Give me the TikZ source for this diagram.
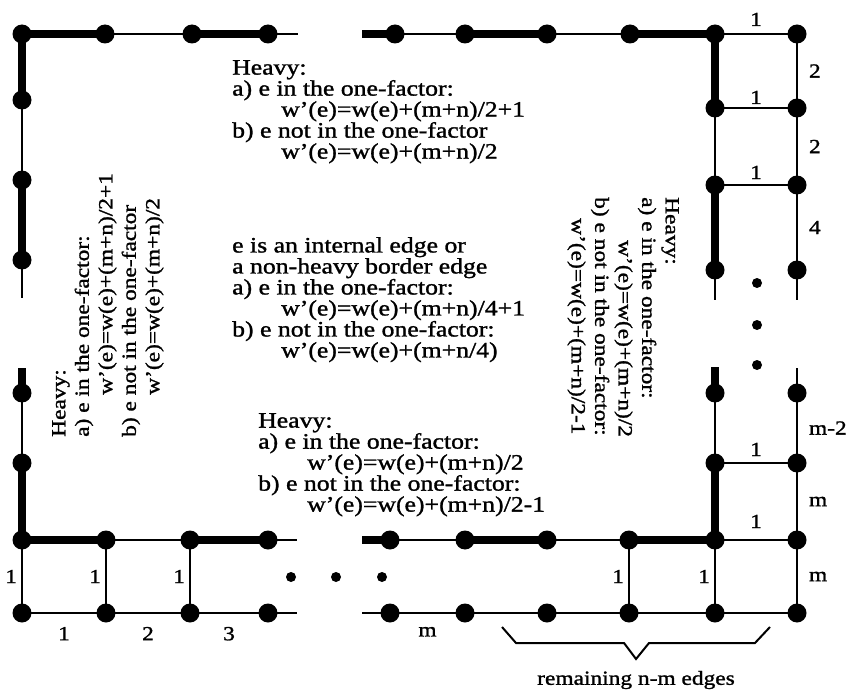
\documentclass[tikz,border=0pt]{standalone}
\usepackage{fontspec}
\setmainfont[FakeStretch=1.17, FakeBold=1.3]{Liberation Serif}
\usetikzlibrary{positioning}

\tikzset{
  vtx/.style={circle, fill=black, minimum size=19pt, inner sep=0pt, outer sep=-2pt},
  heavy/.style={line width=8pt},
  light/.style={line width=2pt},
  wlab/.style={font=\fontsize{20}{20}\selectfont, inner sep=1pt},
  note/.style={font=\fontsize{22}{21}\selectfont, align=left, anchor=north west, inner sep=0pt},
  rnote/.style={font=\fontsize{20}{23.5}\selectfont, align=left, anchor=north west, inner sep=0pt},
}

\begin{document}
\begin{tikzpicture}[x=1pt, y=-1pt]
\useasboundingbox (0,0) rectangle (852,690);

\def\ind{\hspace*{49pt}}

%---------------------------------------
% Vertices
%---------------------------------------
% top left corner
\foreach \n/\x/\y in {a0/22/34, a1/105/34, a2/192/34, a3/268/34,
                      b1/22/100, b2/22/180, b3/22/260}
  \node[vtx] (\n) at (\x,\y) {};
% top right corner
\foreach \n/\x/\y in {c1/395/34, c2/465/34, c3/547/34, c4/630/34, c5/715/34, c6/797/34,
                      d1/715/108, d2/715/185, d3/715/270,
                      e1/797/108, e2/797/185, e3/797/270}
  \node[vtx] (\n) at (\x,\y) {};
% bottom left corner
\foreach \n/\x/\y in {f0/22/540, f1/106/540, f2/190/540, f3/268/540,
                      g0/22/613, g1/106/613, g2/190/613, g3/268/613,
                      h1/22/393, h2/22/463}
  \node[vtx] (\n) at (\x,\y) {};
% bottom right corner
\foreach \n/\x/\y in {k1/390/540, k2/465/540, k3/547/540, k4/629/540, k5/715/540, k6/797/540,
                      l1/390/613, l2/465/613, l3/547/613, l4/629/613, l5/715/613, l6/797/613,
                      p1/715/393, p2/715/463, q1/797/393, q2/797/463}
  \node[vtx] (\n) at (\x,\y) {};

% open ends of the border
\coordinate (ta) at (298,34);
\coordinate (la) at (22,298);
\coordinate (tb) at (362,34);
\coordinate (rc) at (715,300);
\coordinate (rd) at (797,300);
\coordinate (lb) at (22,368);
\coordinate (fe) at (297,540);
\coordinate (ge) at (297,613);
\coordinate (ks) at (362,540);
\coordinate (ls) at (362,613);
\coordinate (ps) at (715,367);
\coordinate (qs) at (797,368);

%---------------------------------------
% Edges
%---------------------------------------
\foreach \s/\t/\k in {a0/a1/heavy, a1/a2/light, a2/a3/heavy, a3/ta/light,
                      a0/b1/heavy, b1/b2/light, b2/b3/heavy, b3/la/light,
                      tb/c1/heavy, c1/c2/light, c2/c3/heavy, c3/c4/light, c4/c5/heavy,
                      c5/d1/heavy, d1/d2/light, d2/d3/heavy, d3/rc/light, e3/rd/light,
                      lb/h1/heavy, h1/h2/light, h2/f0/heavy,
                      f0/f1/heavy, f1/f2/light, f2/f3/heavy, f3/fe/light, g3/ge/light,
                      ks/k1/heavy, k1/k2/light, k2/k3/heavy, k3/k4/light, k4/k5/heavy,
                      ls/l1/light, l2/l3/light, l3/l4/light, l4/l5/light, l5/l6/light,
                      ps/p1/heavy, p1/p2/light, p2/k5/heavy, qs/q1/light}
  \draw[\k] (\s) -- (\t);

% weighted edges, top right
\draw[light] (c5) -- node[wlab, above=6pt] {1} (c6);
\draw[light] (d1) -- node[wlab, above=2pt] {1} (e1);
\draw[light] (d2) -- node[wlab, above=4pt] {1} (e2);
\draw[light] (c6) -- node[wlab, right=10pt] {2} (e1);
\draw[light] (e1) -- node[wlab, right=10pt] {2} (e2);
\draw[light] (e2) -- node[wlab, right=10pt] {4} (e3);

% weighted edges, bottom left
\draw[light] (f0) -- node[wlab, left=3pt] {1} (g0);
\draw[light] (f1) -- node[wlab, left=3pt] {1} (g1);
\draw[light] (f2) -- node[wlab, left=3pt] {1} (g2);
\draw[light] (g0) -- node[wlab, below=12pt] {1} (g1);
\draw[light] (g1) -- node[wlab, below=12pt] {2} (g2);
\draw[light] (g2) -- node[wlab, below=12pt] {3} (g3);

% weighted edges, bottom right
\draw[light] (l1) -- node[wlab, below=12pt] {m} (l2);
\draw[light] (k4) -- node[wlab, left=3pt] {1} (l4);
\draw[light] (k5) -- node[wlab, left=3pt] {1} (l5);
\draw[light] (p2) -- node[wlab, above=5pt] {1} (q2);
\draw[light] (k5) -- node[wlab, above=10pt] {1} (k6);
\draw[light] (q1) -- node[wlab, right=10pt] {m-2} (q2);
\draw[light] (q2) -- node[wlab, right=10pt] {m} (k6);
\draw[light] (k6) -- node[wlab, right=10pt] {m} (l6);

% omitted parts
\foreach \x/\y in {291/577, 336/577, 382/577, 757/283, 757/325, 757/365}
  \fill (\x,\y) circle (5pt);

% brace under the remaining edges
\draw[light] (502,627) -- (516,643) -- (624,643) -- (636,659) -- (649,643) -- (755,643) -- (770,627);
\node[wlab] (rest) at (636,680) {remaining n-m edges};

%---------------------------------------
% Weight rules
%---------------------------------------
\node[note] (topnote) at (232,60)
  {Heavy:\\ a) e in the one-factor:\\ \ind w'(e)=w(e)+(m+n)/2+1\\
   b) e not in the one-factor\\ \ind w'(e)=w(e)+(m+n)/2};

\node[note] (midnote) at (232,237)
  {e is an internal edge or\\ a non-heavy border edge\\ a) e in the one-factor:\\
   \ind w'(e)=w(e)+(m+n)/4+1\\ b) e not in the one-factor:\\ \ind w'(e)=w(e)+(m+n/4)};

\node[note] (botnote) at (258,413)
  {Heavy:\\ a) e in the one-factor:\\ \ind w'(e)=w(e)+(m+n)/2\\
   b) e not in the one-factor:\\ \ind w'(e)=w(e)+(m+n)/2-1};

\node[rnote, rotate=90] (leftnote) at (52,437)
  {Heavy:\\ a) e in the one-factor:\\ \hspace*{42pt}w'(e)=w(e)+(m+n)/2+1\\
   b) e not in the one-factor\\ \hspace*{42pt}w'(e)=w(e)+(m+n)/2};

\node[rnote, rotate=-90] (rightnote) at (679,197)
  {Heavy:\\ a) e in the one-factor:\\ \hspace*{43pt}w'(e)=w(e)+(m+n)/2\\
   b) e not in the one-factor:\\ \hspace*{21pt}w'(e)=w(e)+(m+n)/2-1};

\end{tikzpicture}
\end{document}
